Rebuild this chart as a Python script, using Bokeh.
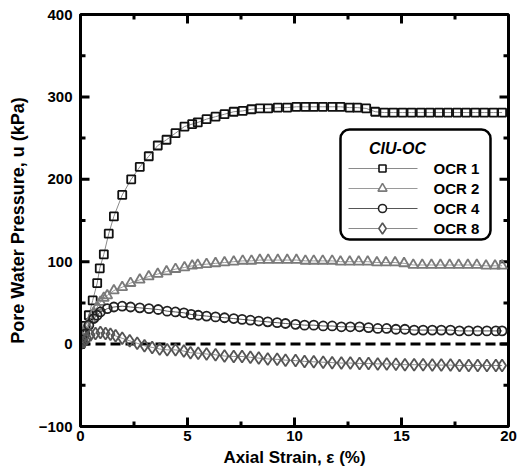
from bokeh.plotting import figure
from bokeh.models import Range1d, BoxAnnotation
from bokeh.core.properties import value
from bokeh.embed import file_html
from bokeh.resources import INLINE

# ---- data (axial strain %, pore water pressure kPa) ----
x1 = [0, 0.08, 0.23, 0.39, 0.57, 0.78, 0.90, 1.09, 1.32, 1.56,
      1.95, 2.37, 2.77, 3.19, 3.61, 4.02, 4.44, 4.86, 5.22, 5.48,
      5.89, 6.31, 6.73, 7.16, 7.58, 7.99, 8.38, 8.77, 9.22, 9.66,
      10.09, 10.51, 10.90, 11.32, 11.76, 12.15, 12.58, 12.93, 13.35, 13.77,
      14.20, 14.62, 15.05, 15.47, 15.90, 16.32, 16.75, 17.17, 17.60, 18.02,
      18.45, 18.87, 19.30, 19.70]
y1 = [0, 11, 22, 35, 53, 74, 92, 109, 134, 155,
      181, 200, 215, 228, 241, 248, 256, 264, 267, 269,
      273, 276, 279, 282, 283, 285, 286, 286, 287, 287,
      288, 288, 288, 288, 288, 288, 287, 287, 286, 282,
      281, 281, 281, 281, 281, 281, 281, 281, 281, 281,
      281, 281, 281, 281]

x2 = [0, 0.08, 0.20, 0.31, 0.47, 0.62, 0.78, 0.93, 1.09, 1.25,
      1.56, 1.95, 2.34, 2.77, 3.19, 3.61, 4.02, 4.44, 4.86, 5.22,
      5.48, 5.89, 6.31, 6.73, 7.16, 7.58, 7.99, 8.38, 8.77, 9.22,
      9.66, 10.09, 10.51, 10.90, 11.32, 11.76, 12.15, 12.58, 13.00, 13.42,
      13.85, 14.27, 14.70, 15.12, 15.55, 15.97, 16.40, 16.82, 17.25, 17.67,
      18.10, 18.52, 18.95, 19.37, 19.70]
y2 = [0, 8, 16, 22, 30, 38, 45, 51, 56, 59,
      65, 69, 74, 78, 82, 85, 88, 91, 93, 95,
      96, 97, 98, 99, 100, 101, 101, 102, 102, 102,
      102, 102, 101, 101, 101, 101, 100, 100, 100, 100,
      99, 99, 99, 98, 96, 96, 96, 96, 96, 96,
      96, 96, 95, 95, 95]

x4 = [0, 0.08, 0.20, 0.39, 0.62, 0.78, 0.93, 1.25, 1.56, 1.95,
      2.34, 2.77, 3.20, 3.63, 4.05, 4.44, 4.83, 5.17, 5.50, 5.89,
      6.31, 6.73, 7.16, 7.55, 7.94, 8.33, 8.75, 9.19, 9.58, 10.05,
      10.47, 10.90, 11.34, 11.76, 12.19, 12.61, 13.04, 13.46, 13.89, 14.31,
      14.74, 15.16, 15.59, 16.01, 16.44, 16.86, 17.29, 17.71, 18.14, 18.56,
      18.99, 19.41, 19.70]
y4 = [0, 5, 12, 23, 31, 35, 39, 43, 45, 46,
      45, 44, 43, 42, 40, 39, 38, 36, 35, 34,
      33, 32, 31, 30, 29, 28, 27, 26, 25, 24,
      23, 23, 22, 22, 21, 21, 21, 20, 19, 19,
      18, 18, 17, 17, 17, 17, 17, 16, 16, 16,
      16, 16, 16]

x8 = [0, 0.16, 0.31, 0.47, 0.70, 0.93, 1.17, 1.40, 1.64, 1.95,
      2.30, 2.65, 2.99, 3.35, 3.70, 4.05, 4.44, 4.83, 5.14, 5.50,
      5.89, 6.31, 6.73, 7.16, 7.55, 7.94, 8.33, 8.75, 9.19, 9.58,
      10.05, 10.47, 10.90, 11.34, 11.76, 12.19, 12.61, 13.04, 13.46, 13.89,
      14.31, 14.74, 15.16, 15.59, 16.01, 16.44, 16.86, 17.29, 17.71, 18.14,
      18.56, 18.99, 19.41, 19.70]
y8 = [0, 3, 7, 11, 13, 14, 13, 12, 10, 7,
      4, 1, -2, -4, -6, -7, -7, -8.5, -10.5, -11,
      -12, -13, -14.5, -15, -15, -16, -17, -18, -18.5, -19.5,
      -20, -21, -21.5, -22, -22.5, -23, -23, -23.5, -23.5, -24,
      -24, -24.5, -25, -25, -25, -25.5, -25.5, -25.5, -26, -26,
      -26, -26, -26, -26]

labels = ["OCR 1", "OCR 2", "OCR 4", "OCR 8"]
legend_title = "CIU-OC"
x_ticks = [0, 5, 10, 15, 20]
x_minor = [2.5, 7.5, 12.5, 17.5]
y_ticks = [-100, 0, 100, 200, 300, 400]
y_minor = [-50, 50, 150, 250, 350]

FONT = "Liberation Sans"
X0, X1, Y0, Y1 = 0, 20, -100, 400
W, H = 523, 473
BL, BR, BT, BB = 80, 15, 14, 47
ux = (X1 - X0) / (W - BL - BR)   # data units per pixel, x
uy = (Y1 - Y0) / (H - BT - BB)   # data units per pixel, y
MAJ, MIN = 9, 5                  # tick lengths in px

def dx(px):  # screen x (px) -> data x
    return X0 + (px - BL) * ux

def dy(py):  # screen y (px) -> data y
    return Y1 - (py - BT) * uy

p = figure(width=W, height=H, output_backend="svg", toolbar_location=None,
           x_range=Range1d(X0, X1), y_range=Range1d(Y0, Y1),
           min_border_left=BL, min_border_right=BR, min_border_top=BT, min_border_bottom=BB)
p.outline_line_color = "black"
p.outline_line_width = 3
p.xgrid.grid_line_alpha = 0
p.ygrid.grid_line_alpha = 0

for ax in (p.xaxis[0], p.yaxis[0]):
    ax.axis_line_color = "black"
    ax.axis_line_width = 3
    ax.major_tick_out = 0
    ax.minor_tick_out = 0
    ax.major_tick_in = 0
    ax.minor_tick_in = 0
    ax.major_label_text_font = FONT
    ax.major_label_text_font_style = "bold"
    ax.major_label_text_font_size = "15px"
    ax.major_label_text_color = "black"
    ax.axis_label_text_font = FONT
    ax.axis_label_text_font_style = "bold"
    ax.axis_label_text_color = "black"

p.xaxis[0].axis_label = "Axial Strain, \u03b5 (%)"
p.xaxis[0].axis_label_text_font_size = "17px"
p.xaxis[0].major_label_standoff = 4
p.xaxis[0].axis_label_standoff = 4
p.yaxis[0].axis_label = "Pore Water Pressure, u (kPa)"
p.yaxis[0].axis_label_text_font_size = "18px"
p.yaxis[0].major_label_standoff = 8
p.yaxis[0].axis_label_standoff = 8

# inward tick marks on all four sides, built from the tick lists
for vals, ln in ((y_ticks, MAJ), (y_minor, MIN)):
    p.segment(x0=[X0] * len(vals), x1=[X0 + ln * ux] * len(vals), y0=vals, y1=vals,
              line_color="black", line_width=3)
    p.segment(x0=[X1] * len(vals), x1=[X1 - ln * ux] * len(vals), y0=vals, y1=vals,
              line_color="black", line_width=3)
for vals, ln in ((x_ticks, MAJ), (x_minor, MIN)):
    p.segment(x0=vals, x1=vals, y0=[Y0] * len(vals), y1=[Y0 + ln * uy] * len(vals),
              line_color="black", line_width=3)
    p.segment(x0=vals, x1=vals, y0=[Y1] * len(vals), y1=[Y1 - ln * uy] * len(vals),
              line_color="black", line_width=3)

# legend frame (rounded white box) drawn underneath the series
p.add_layout(BoxAnnotation(left=dx(340), right=dx(490), top=dy(129), bottom=dy(239),
                           fill_color="white", fill_alpha=1.0, line_color="black",
                           line_alpha=1.0, line_width=2.5, border_radius=9,
                           level="underlay"))

# zero reference line
p.line(x=[X0, X1], y=[0, 0], line_color="black", line_width=3, line_dash="10 5")

series = [
    (x1, y1, "square", "#111111", "#8a8a8a", 8),
    (x2, y2, "triangle", "#7a7a7a", "#9a9a9a", 10),
    (x4, y4, "circle", "#222222", "#555555", 9),
    (x8, y8, "diamond", "#555555", "#8a8a8a", 12),
]
row_py = [168, 188, 208, 228]
for (xs, ys, marker, mcol, lcol, sz), lab, ry in zip(series, labels, row_py):
    p.line(xs, ys, line_color=lcol, line_width=1)
    p.scatter(xs, ys, marker=marker, size=sz, line_color=mcol, line_width=1.8, fill_color=None)
    p.line(x=[dx(348), dx(417)], y=[dy(ry), dy(ry)], line_color=lcol, line_width=1)
    p.scatter(x=[dx(382)], y=[dy(ry)], marker=marker, size=sz - 1, line_color=mcol,
              line_width=1.6, fill_color="white")

p.text(x=[dx(433)] * len(labels), y=[dy(r) for r in row_py], text=labels,
       text_font=value(FONT), text_font_style="bold", text_font_size="15px",
       text_color="black", text_baseline="middle", text_align="left")
p.text(x=[dx(397)], y=[dy(148)], text=[legend_title], text_font=value(FONT),
       text_font_style="bold italic", text_font_size="16px", text_color="black",
       text_baseline="middle", text_align="center")

open("out.html", "w").write(file_html(p, INLINE))
